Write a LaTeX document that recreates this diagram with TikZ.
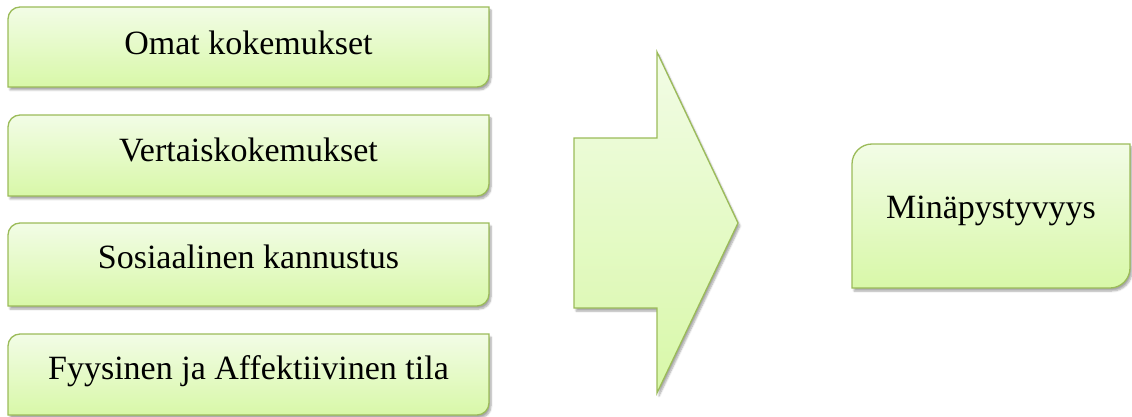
\documentclass[tikz,border=0pt]{standalone}
\usepackage{fontspec}
\setmainfont{Liberation Serif}
\usetikzlibrary{shadows.blur,calc,backgrounds}

\definecolor{edgegreen}{RGB}{155,187,89}
\definecolor{filltop}{RGB}{242,252,230}
\definecolor{fillbottom}{RGB}{216,248,168}

\tikzset{
  x=1pt, y=1pt,
  label text/.style={inner sep=0pt, font=\fontsize{34}{38}\selectfont, text=black},
  panel/.style={draw=edgegreen, line width=1.3pt, top color=filltop, bottom color=fillbottom,
    blur shadow={shadow xshift=2pt, shadow yshift=-3pt, shadow blur steps=6, shadow opacity=35}},
}

% panel with rounded top-left and bottom-right corners
\newcommand{\diagpanel}[6]{% x1, y1 (bottom), x2, y2 (top), radius, name
  \path[panel] (#1,#2) -- (#1,#4-#5) arc[start angle=180, end angle=90, radius=#5]
    -- (#3,#4) -- (#3,#2+#5) arc[start angle=0, end angle=-90, radius=#5] -- cycle;
  \coordinate (#6) at ({(#1+#3)/2},{(#2+#4)/2});
}

\begin{document}
\begin{tikzpicture}
\useasboundingbox (0,0) rectangle (1132,416);

% input panels
\diagpanel{8}{329}{489}{409}{12}{p1}
\diagpanel{8}{220}{489}{301}{12}{p2}
\diagpanel{8}{110}{489}{193}{12}{p3}
\diagpanel{8}{1}{489}{82}{12}{p4}

\node[label text, anchor=base] (t1) at ($(p1)+(0,-8)$) {Omat kokemukset};
\node[label text, anchor=base] (t2) at ($(p2)+(0,-6)$) {Vertaiskokemukset};
\node[label text, anchor=base] (t3) at ($(p3)+(0,-4)$) {Sosiaalinen kannustus};
\node[label text, anchor=base] (t4) at ($(p4)+(0,-5)$) {Fyysinen ja Affektiivinen tila};

% block arrow
\path[panel] (574,278) -- (657,278) -- (657,364) -- (738,193) -- (657,23) -- (657,108)
  -- (574,108) -- cycle;

% result panel
\diagpanel{852}{128}{1130}{272}{20}{pr}
\node[label text, anchor=base] (tr) at ($(pr)+(0,-2)$) {Minäpystyvyys};
\end{tikzpicture}
\end{document}
